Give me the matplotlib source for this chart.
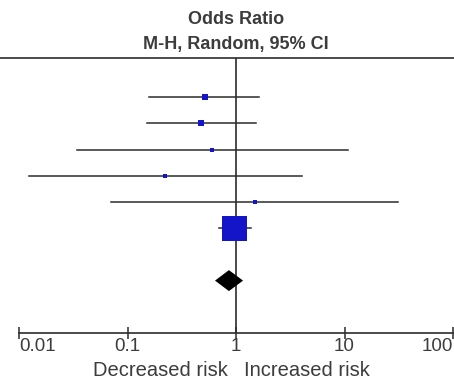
import numpy as np
import matplotlib
matplotlib.use("Agg")
import matplotlib.pyplot as plt

plt.rcParams['font.family'] = ['Liberation Sans', 'DejaVu Sans']

# Study-level odds ratios with 95% CI (rows top to bottom)
odds_ratio = [0.52, 0.48, 0.60, 0.22, 1.50, 0.96]
ci_low = [0.158, 0.150, 0.034, 0.0123, 0.070, 0.70]
ci_high = [1.63, 1.53, 10.8, 4.06, 31.2, 1.37]
marker_pt = [3.8, 3.8, 2.4, 2.4, 2.4, 18]

# Pooled estimate (diamond)
pooled_or = 0.86
pooled_low = 0.64
pooled_high = 1.16
pooled_row = 7

tick_values = [0.01, 0.1, 1, 10, 100]
tick_labels = ["0.01", "0.1", "1", "10", "100"]

text_col = "#3c3c3c"
line_col = "#2b2b2b"
blue = "#1414c8"

fig = plt.figure(figsize=(4.54, 3.81), dpi=100)
ax = fig.add_axes([0, 0.126, 1, 0.722])
ax.set_xscale("log")
ax.set_xlim(0.00668, 102)
ax.set_ylim(9.0, -1.5)

rows = np.arange(len(odds_ratio))
for i in rows:
    ax.plot([ci_low[i], ci_high[i]], [i, i], color=line_col, lw=1.1, zorder=2)
    ax.plot(odds_ratio[i], i, marker="s", color=blue, markersize=marker_pt[i],
            markeredgewidth=0, zorder=3)

dh = 0.4
ax.fill([pooled_low, pooled_or, pooled_high, pooled_or],
        [pooled_row, pooled_row - dh, pooled_row, pooled_row + dh],
        color="black", zorder=3, lw=0)

ax.axvline(1, color=line_col, lw=1.2, zorder=1)

for s in ["left", "right"]:
    ax.spines[s].set_visible(False)
ax.spines["top"].set_color(line_col)
ax.spines["top"].set_linewidth(1.2)
ax.spines["bottom"].set_color(line_col)
ax.spines["bottom"].set_linewidth(1.2)
ax.spines["bottom"].set_bounds(0.01, 100)

ax.set_yticks([])
ax.set_xticks(tick_values)
ax.set_xticklabels(tick_labels)
ax.xaxis.set_minor_locator(matplotlib.ticker.NullLocator())
ax.tick_params(axis="x", direction="inout", length=9, width=1.1, color=line_col,
               labelsize=13.5, labelcolor=text_col, pad=-1)
labels = ax.get_xticklabels()
labels[0].set_ha("left")
labels[-1].set_ha("right")

fig.text(0.52, 1 - 20 / 381, "Odds Ratio", ha="center", va="center",
         fontsize=13, fontweight="bold", color=text_col)
fig.text(0.52, 1 - 45 / 381, "M-H, Random, 95% CI", ha="center", va="center",
         fontsize=13, fontweight="bold", color=text_col)

fig.text(228 / 454, 1 - 370 / 381, "Decreased risk", ha="right", va="center",
         fontsize=14.5, color=text_col)
fig.text(244 / 454, 1 - 370 / 381, "Increased risk", ha="left", va="center",
         fontsize=14.5, color=text_col)

fig.savefig("out.png", dpi=100)
